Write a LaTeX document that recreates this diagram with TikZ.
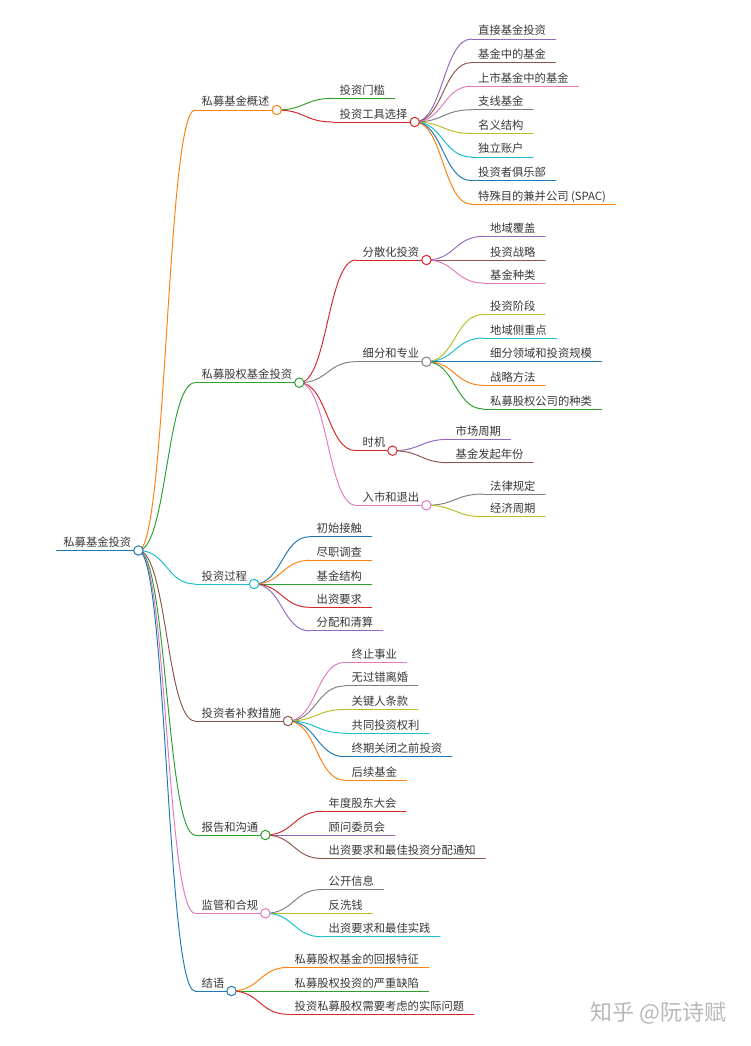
\documentclass[tikz,border=0pt]{standalone}
\usepackage{fontspec}
\setmainfont{Noto Sans CJK SC}
\usetikzlibrary{calc}
\definecolor{c0}{HTML}{1F77B4}
\definecolor{c1}{HTML}{FF7F0E}
\definecolor{c2}{HTML}{2CA02C}
\definecolor{c3}{HTML}{D62728}
\definecolor{c4}{HTML}{9467BD}
\definecolor{c5}{HTML}{8C564B}
\definecolor{c6}{HTML}{E377C2}
\definecolor{c7}{HTML}{7F7F7F}
\definecolor{c8}{HTML}{BCBD22}
\definecolor{c9}{HTML}{17BECF}
\tikzset{
  mmtext/.style={inner sep=0pt, anchor=base west, font=\fontsize{11.3}{13}\selectfont, text=black!78},
  mmline/.style={line width=0.95pt, line cap=round},
  mmdot/.style={line width=1pt},
  wmark/.style={inner sep=0pt, anchor=west, font=\fontsize{22}{22}\selectfont, text=black!28},
}
% leaf node: name, colour, x of line start, y of line, text
\newcommand\mmL[5]{%
  \node[mmtext] (#1) at (#3+6.5,#4-4) {#5};
  \coordinate (#1s) at (#3,#4);
  \coordinate (#1e) at ([xshift=9.5pt,yshift=-4pt]#1.base east);
  \draw[mmline,#2] (#1s) -- (#1e);}
% parent node
\newcommand\mmP[5]{%
  \node[mmtext] (#1) at (#3+6.5,#4-4) {#5};
  \coordinate (#1s) at (#3,#4);
  \coordinate (#1e) at ([xshift=7pt,yshift=-4pt]#1.base east);
  \draw[mmline,#2] (#1s) -- (#1e);}
% link: colour, parent, child
\newcommand\mmK[3]{%
  \draw[mmline,#1] (#2e) .. controls ($(#2e)!0.5!(#2e -| #3s)$) and ($(#3s)!0.5!(#3s -| #2e)$) .. (#3s);}
% circle: colour, node
\newcommand\mmC[2]{\draw[mmdot,draw=#1,fill=white] (#2e) circle[radius=4.7pt];}

\begin{document}
\begin{tikzpicture}[x=1pt,y=-1pt]
\fill[white] (0,0) rectangle (750,1046);
\useasboundingbox (0,0) rectangle (750,1046);

% ---------- nodes ----------
\mmP{R}{c0}{56.7}{550.5}{私募基金投资}

\mmP{A}{c1}{195}{110}{私募基金概述}
\mmL{Aa}{c2}{333}{98.3}{投资门槛}
\mmP{Ab}{c3}{333}{122}{投资工具选择}
\mmL{Abi}{c4}{471.5}{39}{直接基金投资}
\mmL{Abii}{c5}{471.5}{62.6}{基金中的基金}
\mmL{Abiii}{c6}{471.5}{86.2}{上市基金中的基金}
\mmL{Abiv}{c7}{471.5}{109.8}{支线基金}
\mmL{Abv}{c8}{471.5}{133.4}{名义结构}
\mmL{Abvi}{c9}{471.5}{157}{独立账户}
\mmL{Abvii}{c0}{471.5}{180.6}{投资者俱乐部}
\mmL{Abviii}{c1}{471.5}{204.2}{特殊目的兼并公司 (SPAC)}

\mmP{B}{c2}{195}{382.7}{私募股权基金投资}
\mmP{Ba}{c3}{356}{260}{分散化投资}
\mmL{Bai}{c4}{483.5}{236.3}{地域覆盖}
\mmL{Baii}{c5}{483.5}{260}{投资战略}
\mmL{Baiii}{c6}{483.5}{283}{基金种类}
\mmP{Bb}{c7}{356}{361.7}{细分和专业}
\mmL{Bbi}{c8}{483.5}{314.3}{投资阶段}
\mmL{Bbii}{c9}{483.5}{338}{地域侧重点}
\mmL{Bbiii}{c0}{483.5}{361.7}{细分领域和投资规模}
\mmL{Bbiv}{c1}{483.5}{385.3}{战略方法}
\mmL{Bbv}{c2}{483.5}{409}{私募股权公司的种类}
\mmP{Bc}{c3}{356}{450.7}{时机}
\mmL{Bci}{c4}{449}{439.3}{市场周期}
\mmL{Bcii}{c5}{449}{462.7}{基金发起年份}
\mmP{Bd}{c6}{356}{505.3}{入市和退出}
\mmL{Bdi}{c7}{483.5}{494}{法律规定}
\mmL{Bdii}{c8}{483.5}{516.7}{经济周期}

\mmP{C}{c9}{195}{584}{投资过程}
\mmL{Ci}{c0}{310}{536.7}{初始接触}
\mmL{Cii}{c1}{310}{560.3}{尽职调查}
\mmL{Ciii}{c2}{310}{584}{基金结构}
\mmL{Civ}{c3}{310}{607.3}{出资要求}
\mmL{Cv}{c4}{310}{630.9}{分配和清算}

\mmP{D}{c5}{195}{721}{投资者补救措施}
\mmL{Di}{c6}{345}{662.3}{终止事业}
\mmL{Dii}{c7}{345}{685.9}{无过错离婚}
\mmL{Diii}{c8}{345}{709.5}{关键人条款}
\mmL{Div}{c9}{345}{733.1}{共同投资权利}
\mmL{Dv}{c0}{345}{756.7}{终期关闭之前投资}
\mmL{Dvi}{c1}{345}{780.3}{后续基金}

\mmP{E}{c2}{195}{835}{报告和沟通}
\mmL{Ei}{c3}{322}{811.3}{年度股东大会}
\mmL{Eii}{c4}{322}{835}{顾问委员会}
\mmL{Eiii}{c5}{322}{858.5}{出资要求和最佳投资分配通知}

\mmP{F}{c6}{195}{913.3}{监管和合规}
\mmL{Fi}{c7}{322}{889.5}{公开信息}
\mmL{Fii}{c8}{322}{913.3}{反洗钱}
\mmL{Fiii}{c9}{322}{936.8}{出资要求和最佳实践}

\mmP{G}{c0}{195}{991}{结语}
\mmL{Gi}{c1}{288}{967.4}{私募股权基金的回报特征}
\mmL{Gii}{c2}{288}{991}{私募股权投资的严重缺陷}
\mmL{Giii}{c3}{288}{1014.3}{投资私募股权需要考虑的实际问题}

% ---------- links ----------
\mmK{c1}{R}{A}\mmK{c2}{R}{B}\mmK{c9}{R}{C}\mmK{c5}{R}{D}
\mmK{c2}{R}{E}\mmK{c6}{R}{F}\mmK{c0}{R}{G}

\mmK{c2}{A}{Aa}\mmK{c3}{A}{Ab}
\mmK{c4}{Ab}{Abi}\mmK{c5}{Ab}{Abii}\mmK{c6}{Ab}{Abiii}\mmK{c7}{Ab}{Abiv}
\mmK{c8}{Ab}{Abv}\mmK{c9}{Ab}{Abvi}\mmK{c0}{Ab}{Abvii}\mmK{c1}{Ab}{Abviii}

\mmK{c3}{B}{Ba}\mmK{c7}{B}{Bb}\mmK{c3}{B}{Bc}\mmK{c6}{B}{Bd}
\mmK{c4}{Ba}{Bai}\mmK{c5}{Ba}{Baii}\mmK{c6}{Ba}{Baiii}
\mmK{c8}{Bb}{Bbi}\mmK{c9}{Bb}{Bbii}\mmK{c0}{Bb}{Bbiii}\mmK{c1}{Bb}{Bbiv}\mmK{c2}{Bb}{Bbv}
\mmK{c4}{Bc}{Bci}\mmK{c5}{Bc}{Bcii}
\mmK{c7}{Bd}{Bdi}\mmK{c8}{Bd}{Bdii}

\mmK{c0}{C}{Ci}\mmK{c1}{C}{Cii}\mmK{c2}{C}{Ciii}\mmK{c3}{C}{Civ}\mmK{c4}{C}{Cv}
\mmK{c6}{D}{Di}\mmK{c7}{D}{Dii}\mmK{c8}{D}{Diii}\mmK{c9}{D}{Div}\mmK{c0}{D}{Dv}\mmK{c1}{D}{Dvi}
\mmK{c3}{E}{Ei}\mmK{c4}{E}{Eii}\mmK{c5}{E}{Eiii}
\mmK{c7}{F}{Fi}\mmK{c8}{F}{Fii}\mmK{c9}{F}{Fiii}
\mmK{c1}{G}{Gi}\mmK{c2}{G}{Gii}\mmK{c3}{G}{Giii}

% ---------- circles ----------
\mmC{c0}{R}\mmC{c1}{A}\mmC{c3}{Ab}\mmC{c2}{B}\mmC{c3}{Ba}\mmC{c7}{Bb}
\mmC{c3}{Bc}\mmC{c6}{Bd}\mmC{c9}{C}\mmC{c5}{D}\mmC{c2}{E}\mmC{c6}{F}\mmC{c0}{G}

% ---------- watermark ----------
\node[wmark] (wm) at (590.5,1013) {知乎 @阮诗赋};
\end{tikzpicture}
\end{document}
